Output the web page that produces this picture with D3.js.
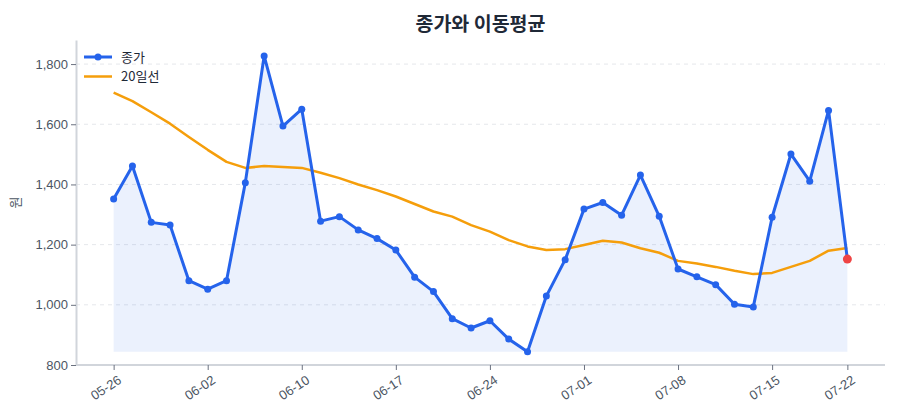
<!DOCTYPE html>
<html>
<head>
<meta charset="utf-8">
<script src="https://cdn.jsdelivr.net/npm/d3@7"></script>
<style>
  body { margin: 0; background: #fff; }
  svg { display: block; font-family: "Noto Sans CJK KR", "Noto Sans", sans-serif; }
</style>
</head>
<body>
<div id="chart"></div>
<script>
// 거래일 (6/6, 7/17 휴장)
const dates = [
  "05-26","05-27","05-28","05-29","05-30",
  "06-02","06-03","06-04","06-05","06-09",
  "06-10","06-11","06-12","06-13","06-16",
  "06-17","06-18","06-19","06-20","06-23",
  "06-24","06-25","06-26","06-27","06-30",
  "07-01","07-02","07-03","07-04","07-07",
  "07-08","07-09","07-10","07-11","07-14",
  "07-15","07-16","07-18","07-21","07-22"
];
const close = [
  1352, 1461, 1274, 1265, 1080, 1052, 1080, 1406, 1827, 1594,
  1650, 1278, 1293, 1249, 1220, 1182, 1092, 1044, 954, 923,
  947, 886, 844, 1029, 1150, 1318, 1340, 1298, 1431, 1294,
  1119, 1093, 1067, 1002, 993, 1291, 1501, 1411, 1646, 1152
];
const ma20 = [
  1705, 1677, 1640, 1602, 1558, 1515, 1475, 1455, 1461, 1458,
  1455, 1439, 1421, 1400, 1381, 1360, 1335, 1310, 1293, 1265,
  1243, 1215, 1194, 1182, 1185, 1199, 1213, 1207, 1188, 1173,
  1146, 1137, 1126, 1113, 1102, 1106, 1126, 1146, 1180, 1189
];
const tickLabels = ["05-26","06-02","06-10","06-17","06-24","07-01","07-08","07-15","07-22"];
const yTicks = [800, 1000, 1200, 1400, 1600, 1800];

const width = 900, height = 420;
const margin = {top: 40, right: 15, bottom: 55, left: 76};

const blue = "#2563eb", orange = "#f59e0b", red = "#ef4444";

const svg = d3.select("#chart").append("svg")
  .attr("width", width).attr("height", height)
  .attr("viewBox", [0, 0, width, height]);

const x = d3.scalePoint()
  .domain(dates)
  .range([margin.left, width - margin.right])
  .padding(2);

const y = d3.scaleLinear()
  .domain([800, 1880])
  .range([height - margin.bottom, margin.top]);

// grid
svg.append("g")
  .selectAll("line")
  .data(yTicks)
  .join("line")
  .attr("x1", margin.left).attr("x2", width - margin.right)
  .attr("y1", d => y(d)).attr("y2", d => y(d))
  .attr("stroke", "#e5e7eb")
  .attr("stroke-dasharray", "4,4");

// area (baseline = min close)
const minClose = d3.min(close);
const area = d3.area()
  .x((d, i) => x(dates[i]))
  .y0(y(minClose))
  .y1(d => y(d));

svg.append("path")
  .datum(close)
  .attr("fill", blue)
  .attr("fill-opacity", 0.09)
  .attr("d", area);

// axes
const xAxis = svg.append("g")
  .attr("transform", `translate(0,${height - margin.bottom})`)
  .call(d3.axisBottom(x).tickValues(tickLabels).tickSize(5).tickSizeOuter(0));
xAxis.select(".domain").attr("stroke", "#d1d5db").attr("stroke-width", 2)
  .attr("d", `M${margin.left},0H${width - margin.right}`);
xAxis.selectAll(".tick line").attr("stroke", "#6b7280");
xAxis.selectAll(".tick text")
  .attr("font-size", 13)
  .attr("fill", "#4b5563")
  .attr("text-anchor", "end")
  .attr("dx", "-0.2em")
  .attr("dy", "0.85em")
  .attr("transform", "rotate(-33)");

const yAxis = svg.append("g")
  .attr("transform", `translate(${margin.left},0)`)
  .call(d3.axisLeft(y).tickValues(yTicks).tickFormat(d3.format(",")).tickSize(5).tickSizeOuter(0));
yAxis.select(".domain").attr("stroke", "#d1d5db").attr("stroke-width", 2);
yAxis.selectAll(".tick line").attr("stroke", "#6b7280");
yAxis.selectAll(".tick text").attr("font-size", 13).attr("fill", "#4b5563");

// lines
const line = d3.line().x((d, i) => x(dates[i])).y(d => y(d));

svg.append("path")
  .datum(ma20)
  .attr("fill", "none")
  .attr("stroke", orange)
  .attr("stroke-width", 2.5)
  .attr("stroke-linejoin", "round")
  .attr("d", line);

svg.append("path")
  .datum(close)
  .attr("fill", "none")
  .attr("stroke", blue)
  .attr("stroke-width", 3)
  .attr("stroke-linejoin", "round")
  .attr("d", line);

svg.append("g")
  .selectAll("circle")
  .data(close.slice(0, -1))
  .join("circle")
  .attr("cx", (d, i) => x(dates[i]))
  .attr("cy", d => y(d))
  .attr("r", 3.5)
  .attr("fill", blue);

// 마지막 종가 강조
svg.append("circle")
  .attr("cx", x(dates[dates.length - 1]))
  .attr("cy", y(close[close.length - 1]))
  .attr("r", 4.5)
  .attr("fill", red);

// title
svg.append("text")
  .attr("x", (margin.left + width - margin.right) / 2)
  .attr("y", 31)
  .attr("text-anchor", "middle")
  .attr("font-size", 19.5)
  .attr("font-weight", "bold")
  .attr("fill", "#1f2937")
  .text("종가와 이동평균");

// y label
svg.append("text")
  .attr("transform", `translate(20,${(margin.top + height - margin.bottom) / 2}) rotate(-90)`)
  .attr("text-anchor", "middle")
  .attr("font-size", 13)
  .attr("fill", "#4b5563")
  .text("원");

// legend
const legend = svg.append("g").attr("transform", `translate(${margin.left + 8},57)`);
const items = [{name: "종가", color: blue, dot: true}, {name: "20일선", color: orange, dot: false}];
items.forEach((it, i) => {
  const g = legend.append("g").attr("transform", `translate(0,${i * 19.5})`);
  g.append("line").attr("x1", 0).attr("x2", 28)
    .attr("stroke", it.color).attr("stroke-width", it.dot ? 3 : 2.5);
  if (it.dot) g.append("circle").attr("cx", 14).attr("r", 3.5).attr("fill", it.color);
  g.append("text").attr("x", 37).attr("dy", "0.35em")
    .attr("font-size", 13).attr("fill", "#1f2937").text(it.name);
});
</script>
</body>
</html>
